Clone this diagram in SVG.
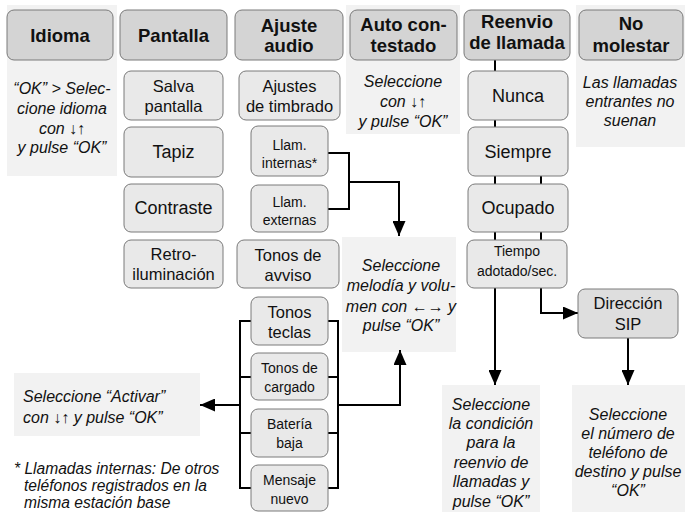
<svg xmlns="http://www.w3.org/2000/svg" width="685" height="512" viewBox="0 0 685 512">
<style>
.panel{fill:#f2f2f2}
.hdr{fill:#d4d4d4;stroke:#7a7a7a;stroke-width:1}
.sub{fill:#e9e9e9;stroke:#7a7a7a;stroke-width:1}
.sip{fill:#dedede;stroke:#7a7a7a;stroke-width:1}
text{font-family:"Liberation Sans",Arial,sans-serif;fill:#111;text-anchor:middle}
.h{font-size:18.5px;font-weight:bold}
.b{font-size:18px}
.m{font-size:16.5px}
.s{font-size:14px}
.i{font-size:16px;font-style:italic}
.f{font-size:15.6px}
.l{text-anchor:start}
.ln{fill:none;stroke:#000;stroke-width:2}
</style>
<defs>
<marker id="ah" markerUnits="userSpaceOnUse" markerWidth="15" markerHeight="13" refX="15" refY="6.5" orient="auto">
<path d="M0,0 L15,6.5 L0,13 z" fill="#000"/>
</marker>
</defs>

<g id="panels">
<rect class="panel" x="7" y="5" width="110" height="171"/>
<rect class="panel" x="346" y="5" width="114" height="129"/>
<rect class="panel" x="576" y="5" width="109" height="142"/>
<rect class="panel" x="342" y="237" width="114" height="115"/>
<rect class="panel" x="14" y="373" width="186" height="63"/>
<rect class="panel" x="442" y="385" width="98" height="127"/>
<rect class="panel" x="572" y="385" width="113" height="127"/>
</g>

<g id="connectors">
<path class="ln" d="M328,153 H349 V209 H328"/>
<path class="ln" d="M349,182 H399 V236" marker-end="url(#ah)"/>
<path class="ln" d="M251,321 H240 V488 H251 M240,377 H251 M240,433 H251"/>
<path class="ln" d="M240,405 H200" marker-end="url(#ah)"/>
<path class="ln" d="M328,321 H338 V488 H328 M338,377 H328 M338,433 H328"/>
<path class="ln" d="M338,405 H400 V350" marker-end="url(#ah)"/>
<path class="ln" d="M495,60 V385" marker-end="url(#ah)"/>
<path class="ln" d="M541,170 V313 H578" marker-end="url(#ah)"/>
<path class="ln" d="M628,338 V385" marker-end="url(#ah)"/>
</g>

<g id="idioma"><rect class="hdr" x="7" y="10" width="106" height="50" rx="7"/><text class="h" x="60" y="42">Idioma</text></g>
<g id="pantalla"><rect class="hdr" x="120" y="10" width="107" height="50" rx="7"/><text class="h" x="173.5" y="42">Pantalla</text></g>
<g id="ajuste-audio"><rect class="hdr" x="235" y="10" width="108" height="50" rx="7"/><text class="h" x="289" y="32">Ajuste</text><text class="h" x="289" y="52">audio</text></g>
<g id="auto-contestado"><rect class="hdr" x="350" y="10" width="107" height="50" rx="7"/><text class="h" x="403.5" y="31">Auto con-</text><text class="h" x="403.5" y="52">testado</text></g>
<g id="reenvio"><rect class="hdr" x="464" y="10" width="106" height="50" rx="7"/><text class="h" x="517" y="28">Reenvio</text><text class="h" x="517" y="49">de llamada</text></g>
<g id="no-molestar"><rect class="hdr" x="579" y="10" width="104" height="50" rx="7"/><text class="h" x="631" y="30">No</text><text class="h" x="631" y="52">molestar</text></g>

<g id="salva"><rect class="sub" x="124" y="71" width="99" height="49" rx="7"/><text class="m" x="173.5" y="92">Salva</text><text class="m" x="173.5" y="112">pantalla</text></g>
<g id="tapiz"><rect class="sub" x="124" y="127" width="99" height="50" rx="7"/><text class="b" x="173.5" y="158">Tapiz</text></g>
<g id="contraste"><rect class="sub" x="124" y="184" width="99" height="48" rx="7"/><text class="b" x="173.5" y="214">Contraste</text></g>
<g id="retro"><rect class="sub" x="124" y="240" width="99" height="48" rx="7"/><text class="m" x="173.5" y="260">Retro-</text><text class="m" x="173.5" y="280">iluminación</text></g>

<g id="timbrado"><rect class="sub" x="239" y="71" width="101" height="49" rx="7"/><text class="m" x="289.5" y="92">Ajustes</text><text class="m" x="289.5" y="112">de timbrado</text></g>
<g id="internas"><rect class="sub" x="251" y="126" width="77" height="50" rx="7"/><text class="s" x="289.5" y="150">Llam.</text><text class="s" x="289.5" y="168">internas*</text></g>
<g id="externas"><rect class="sub" x="251" y="185" width="77" height="47" rx="7"/><text class="s" x="289.5" y="207">Llam.</text><text class="s" x="289.5" y="225">externas</text></g>
<g id="avviso"><rect class="sub" x="237" y="240" width="102" height="48" rx="7"/><text class="m" x="288" y="261">Tonos de</text><text class="m" x="288" y="281">avviso</text></g>

<g id="teclas"><rect class="sub" x="251" y="297" width="77" height="48" rx="7"/><text class="m" x="289.5" y="318">Tonos</text><text class="m" x="289.5" y="338">teclas</text></g>
<g id="cargado"><rect class="sub" x="251" y="353" width="77" height="47" rx="7"/><text class="s" x="289.5" y="373">Tonos de</text><text class="s" x="289.5" y="392">cargado</text></g>
<g id="bateria"><rect class="sub" x="251" y="409" width="77" height="48" rx="7"/><text class="s" x="289.5" y="429">Batería</text><text class="s" x="289.5" y="448">baja</text></g>
<g id="mensaje"><rect class="sub" x="251" y="465" width="77" height="46" rx="7"/><text class="s" x="289.5" y="485">Mensaje</text><text class="s" x="289.5" y="504">nuevo</text></g>

<g id="nunca"><rect class="sub" x="468" y="71" width="100" height="49" rx="7"/><text class="b" x="518" y="102">Nunca</text></g>
<g id="siempre"><rect class="sub" x="468" y="127" width="100" height="49" rx="7"/><text class="b" x="518" y="158">Siempre</text></g>
<g id="ocupado"><rect class="sub" x="468" y="184" width="100" height="48" rx="7"/><text class="b" x="518" y="214">Ocupado</text></g>
<g id="tiempo"><rect class="sub" x="467" y="240" width="100" height="48" rx="7"/><text class="s" x="517" y="256">Tiempo</text><text class="s" x="517" y="276">adotado/sec.</text></g>
<g id="sip"><rect class="sip" x="578" y="289" width="100" height="49" rx="7"/><text class="m" x="628" y="309">Dirección</text><text class="m" x="628" y="330">SIP</text></g>

<g id="texts">
<text class="i" x="62" y="94">“OK” &gt; Selec-</text>
<text class="i" x="62" y="114">cione idioma</text>
<text class="i" x="62" y="134">con ↓↑</text>
<text class="i" x="62" y="153">y pulse “OK”</text>

<text class="i" x="403" y="87">Seleccione</text>
<text class="i" x="403" y="107">con ↓↑</text>
<text class="i" x="403" y="127">y pulse “OK”</text>

<text class="i" x="630" y="88">Las llamadas</text>
<text class="i" x="630" y="107">entrantes no</text>
<text class="i" x="630" y="126">suenan</text>

<text class="i" x="401" y="271">Seleccione</text>
<text class="i" x="401" y="291">melodía y volu-</text>
<text class="i" x="401" y="312">men con ←→ y</text>
<text class="i" x="401" y="331">pulse “OK”</text>

<text class="i l" x="23" y="402">Seleccione “Activar”</text>
<text class="i l" x="23" y="423">con ↓↑  y pulse “OK”</text>

<text class="i" x="491" y="410">Seleccione</text>
<text class="i" x="491" y="429">la condición</text>
<text class="i" x="491" y="448">para la</text>
<text class="i" x="491" y="468">reenvio de</text>
<text class="i" x="491" y="487">llamadas y</text>
<text class="i" x="491" y="507">pulse “OK”</text>

<text class="i" x="628" y="420">Seleccione</text>
<text class="i" x="628" y="439">el número de</text>
<text class="i" x="628" y="458">teléfono de</text>
<text class="i" x="628" y="477">destino y pulse</text>
<text class="i" x="628" y="496">“OK”</text>

<text class="i f l" x="14" y="474">* Llamadas internas: De otros</text>
<text class="i f l" x="24" y="491">teléfonos registrados en la</text>
<text class="i f l" x="24" y="508">misma estación base</text>
</g>
</svg>
